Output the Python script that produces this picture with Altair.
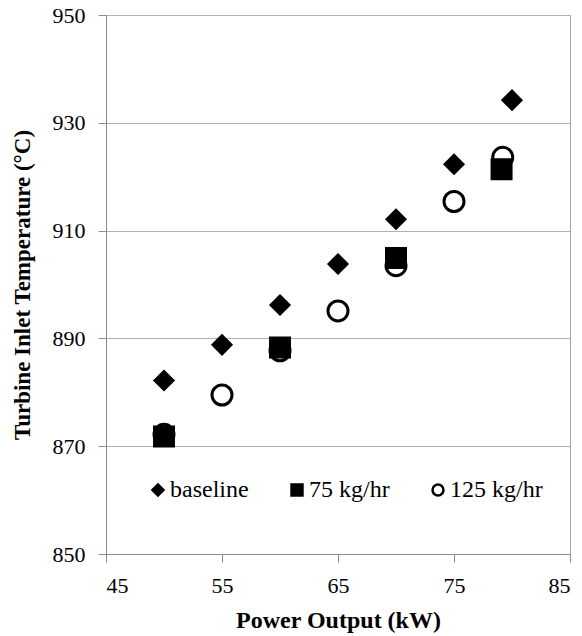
import altair as alt
import pandas as pd

# Data
series_names = ["baseline", "75 kg/hr", "125 kg/hr"]

x_baseline = [50, 55, 60, 65, 70, 75, 80]
y_baseline = [882.2, 888.8, 896.2, 903.8, 912.1, 922.3, 934.2]

x_75 = [50, 60, 70, 79.1]
y_75 = [871.8, 888.3, 904.9, 921.4]

x_125 = [50, 55, 60, 65, 70, 75, 79.2]
y_125 = [872.2, 879.5, 887.7, 895.1, 903.5, 915.4, 923.6]

x_ticks = [45, 55, 65, 75, 85]
y_ticks = [850, 870, 890, 910, 930, 950]

# drawing order: circles first, then squares, then diamonds
rows = []
for x, y in zip(x_125, y_125):
    rows.append({"power": x, "temp": y, "series": "125 kg/hr"})
for x, y in zip(x_75, y_75):
    rows.append({"power": x, "temp": y, "series": "75 kg/hr"})
for x, y in zip(x_baseline, y_baseline):
    rows.append({"power": x, "temp": y, "series": "baseline"})
df = pd.DataFrame(rows)

FONT = "Liberation Serif"

size_rule = (
    alt.when(alt.datum.series == "125 kg/hr").then(alt.value(400))
    .when(alt.datum.series == "75 kg/hr").then(alt.value(361))
    .otherwise(alt.value(320))
)

legend_def = alt.Legend(title=None, orient="none", direction="horizontal",
                        legendX=40, legendY=463, symbolStrokeWidth=2.5)

chart = alt.Chart(df).mark_point(filled=False, strokeWidth=3, opacity=1).encode(
    x=alt.X("power:Q",
            scale=alt.Scale(domain=[45, 85], nice=False, zero=False),
            axis=alt.Axis(values=x_ticks, title="Power Output (kW)", grid=False)),
    y=alt.Y("temp:Q",
            scale=alt.Scale(domain=[850, 950], nice=False, zero=False),
            axis=alt.Axis(values=y_ticks, title="Turbine Inlet Temperature (°C)", grid=True,
                          titleFontSize=23)),
    shape=alt.Shape("series:N",
                    scale=alt.Scale(domain=series_names, range=["diamond", "square", "circle"]),
                    legend=legend_def),
    fill=alt.Fill("series:N",
                  scale=alt.Scale(domain=series_names, range=["black", "black", "white"]),
                  legend=legend_def),
    stroke=alt.Stroke("series:N",
                      scale=alt.Scale(domain=series_names, range=["black", "black", "black"]),
                      legend=legend_def),
    size=size_rule,
    order=alt.Order("z:Q"),
).transform_calculate(
    z="datum.series == '125 kg/hr' ? 0 : (datum.series == '75 kg/hr' ? 1 : 2)"
).properties(
    width=464,
    height=539,
    autosize=alt.AutoSizeParams(type="none"),
    padding={"left": 98, "top": 7, "right": 4, "bottom": 80},
).configure_view(
    stroke="#a6a6a6", strokeWidth=1
).configure_axis(
    labelFont=FONT, labelFontSize=22, labelColor="black",
    titleFont=FONT, titleFontSize=24, titleFontWeight="bold", titleColor="black",
    domainColor="#8c8c8c", tickColor="#8c8c8c", tickSize=8,
    gridColor="#b0b0b0", gridWidth=1.2,
).configure_axisX(
    labelPadding=13, titlePadding=12,
).configure_axisY(
    labelPadding=13, titlePadding=18,
).configure_legend(
    labelFont=FONT, labelFontSize=24, labelColor="black",
    symbolSize=120,
    labelOffset=0, columnPadding=36, padding=0,
)

chart.save("out.html", embed_options={"renderer": "svg", "actions": False})
